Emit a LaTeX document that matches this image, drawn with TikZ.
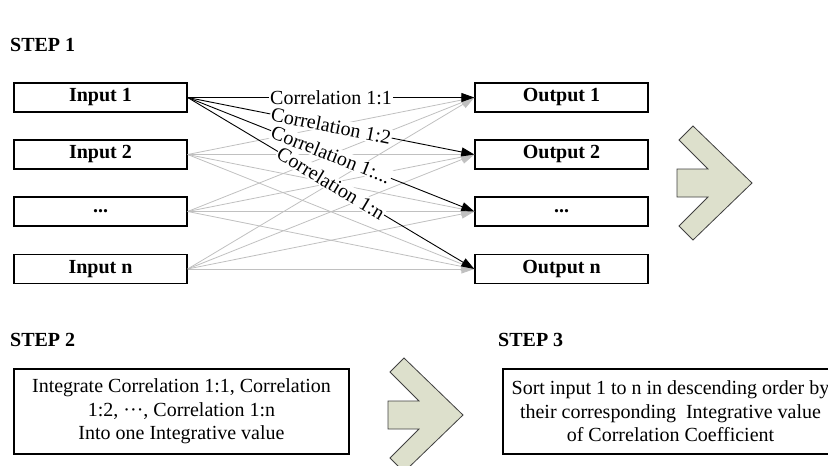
\documentclass[tikz,border=0pt]{standalone}
\usepackage{fontspec}
\setmainfont{Liberation Serif}
\usetikzlibrary{arrows.meta}
\definecolor{chevfill}{HTML}{DDE0CC}
\definecolor{faintgray}{HTML}{C0C0C0}
\begin{document}
\begin{tikzpicture}[x=1pt,y=-1pt,
  every node/.style={font=\fontsize{20}{23.5}\selectfont},
  iobox/.style={draw, line width=1.3pt, minimum width=173pt, minimum height=29pt,
    inner sep=0pt, font=\fontsize{20}{23.5}\selectfont\bfseries},
  steplabel/.style={anchor=base west, inner sep=0pt, font=\fontsize{20}{23.5}\selectfont\bfseries},
  textbox/.style={draw, line width=1.1pt, minimum width=335pt, minimum height=85pt,
    align=center, inner sep=0pt},
  faint/.style={draw=faintgray, line width=0.8pt, -{Triangle[length=13pt,width=9pt]}},
  strong/.style={draw=black, line width=0.9pt, -{Triangle[length=13pt,width=9pt]}},
  corr/.style={sloped, midway, fill=white, inner sep=1pt},
  chevron/.style={draw=black!75, fill=chevfill, line width=0.8pt, line join=miter}
]
\useasboundingbox (0,0) rectangle (828,466);
\clip (0,0) rectangle (828,466);

% step titles
\node[steplabel] (s1) at (10,51) {STEP 1};
\node[steplabel] (s2) at (10,346) {STEP 2};
\node[steplabel] (s3) at (498,346) {STEP 3};

% inputs and outputs
\node[iobox] (in1) at (100.5,97.5) {Input 1};
\node[iobox] (in2) at (100.5,154.5) {Input 2};
\node[iobox] (in3) at (100.5,211.5) {...};
\node[iobox] (in4) at (100.5,269) {Input n};
\node[iobox] (out1) at (561.5,97.5) {Output 1};
\node[iobox] (out2) at (561.5,154.5) {Output 2};
\node[iobox] (out3) at (561.5,211.5) {...};
\node[iobox] (out4) at (561.5,269) {Output n};

% every other input feeds every output
\foreach \i in {2,3,4}
  \foreach \j in {1,2,3,4}
    \draw[faint] (in\i.east) -- (out\j.west);

% correlations of input 1
\draw[strong] (in1.east) -- node[corr] {Correlation 1:1} (out1.west);
\draw[strong] (in1.east) -- node[corr] {Correlation 1:2} (out2.west);
\draw[strong] (in1.east) -- node[corr] {Correlation 1:...} (out3.west);
\draw[strong] (in1.east) -- node[corr] {Correlation 1:n} (out4.west);

% chevrons between the steps
\foreach \cx/\cy in {677/183, 388/415}
  \draw[chevron] (\cx+16,\cy-57) -- (\cx+75,\cy) -- (\cx+16,\cy+57) -- (\cx+2,\cy+43)
    -- (\cx+31,\cy+14) -- (\cx,\cy+14) -- (\cx,\cy-14) -- (\cx+31,\cy-14)
    -- (\cx+2,\cy-43) -- cycle;

% step 2 and step 3 boxes
\node[textbox] (b2) at (181.5,411.5)
  {Integrate Correlation 1:1, Correlation\\ 1:2, ···, Correlation 1:n\\ Into one Integrative value};
\node[textbox] (b3) at (670.5,411.5)
  {Sort input 1 to n in descending order by\\ their corresponding\ \ Integrative value\\ of Correlation Coefficient};
\end{tikzpicture}
\end{document}
